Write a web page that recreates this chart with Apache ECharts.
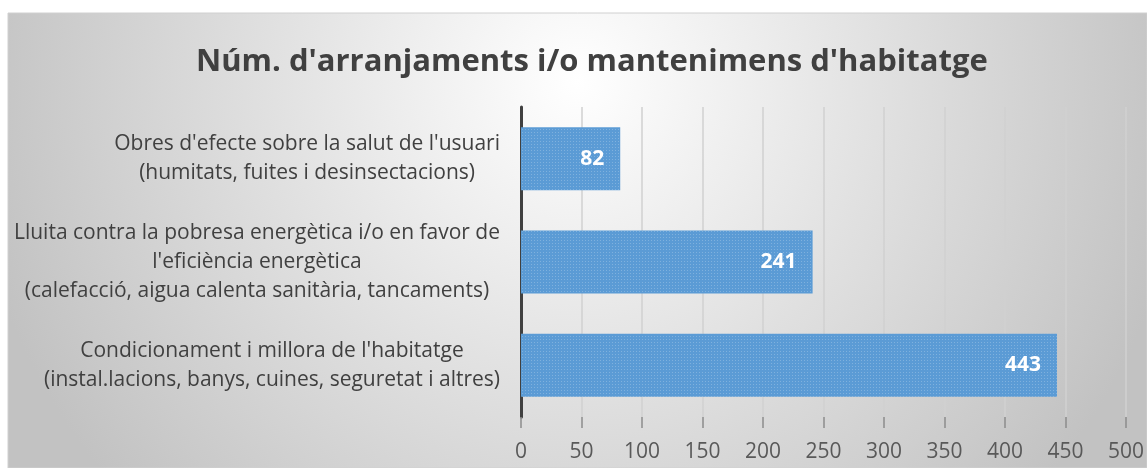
<!DOCTYPE html>
<html>
<head>
<meta charset="utf-8">
<script src="https://cdn.jsdelivr.net/npm/echarts@6/dist/echarts.min.js"></script>
<style>
  html, body { margin: 0; padding: 0; background: #fff; }
  #chart { width: 1147px; height: 468px; }
</style>
</head>
<body>
<div id="chart"></div>
<script>
// categories listed bottom to top (category axis runs upwards)
const categories = [
  "Condicionament i millora de l'habitatge\n(instal.lacions, banys, cuines, seguretat i altres)",
  "Lluita contra la pobresa energètica i/o en favor de\nl'eficiència energètica\n(calefacció, aigua calenta sanitària, tancaments)",
  "Obres d'efecte sobre la salut de l'usuari\n(humitats, fuites i desinsectacions)"
]
const values = [443, 241, 82]
const xTicks = [0, 50, 100, 150, 200, 250, 300, 350, 400, 450, 500]

const chart = echarts.init(document.getElementById('chart'), null, { renderer: 'canvas' })

const option = {
  animation: false,
  textStyle: { fontFamily: 'Open Sans' },
  graphic: [{
    type: 'rect',
    z: -10,
    silent: true,
    shape: { x: 8, y: 13, width: 1139, height: 455 },
    style: {
      fill: new echarts.graphic.RadialGradient(0.5, 0.15, 1.35, [
        { offset: 0, color: '#ffffff' },
        { offset: 1, color: '#c2c2c2' }
      ]),
      stroke: '#d0d0d0',
      lineWidth: 1
    }
  }],
  title: {
    text: "Núm. d'arranjaments i/o mantenimens d'habitatge",
    left: 191,
    top: 42,
    textStyle: {
      fontFamily: 'Open Sans',
      fontSize: 31,
      fontWeight: 'bold',
      color: '#404040'
    }
  },
  grid: {
    left: 521,
    right: 20,
    top: 107,
    bottom: 51
  },
  xAxis: {
    type: 'value',
    min: xTicks[0],
    max: xTicks[xTicks.length - 1],
    interval: 50,
    axisLine: { show: false },
    axisTick: { show: true, length: 11, lineStyle: { color: '#8c8c8c', width: 1.5 } },
    splitLine: { show: true, lineStyle: { color: '#d0d0d0', width: 1.5 } },
    axisLabel: {
      color: '#595959',
      fontSize: 21,
      margin: 25
    }
  },
  yAxis: {
    type: 'category',
    data: categories,
    axisLine: { show: true, lineStyle: { color: '#404040', width: 3 } },
    axisTick: { show: false },
    axisLabel: {
      margin: 21,
      color: '#404040',
      fontSize: 21,
      lineHeight: 29,
      formatter: function (v) {
        return v.split('\n').map(function (s) { return '{c|' + s + '}' }).join('\n')
      },
      rich: {
        c: { align: 'center', fontSize: 21, lineHeight: 29, color: '#404040' }
      }
    }
  },
  series: [{
    type: 'bar',
    data: values,
    barCategoryGap: '39%',
    itemStyle: {
      color: '#5b9bd5',
      decal: {
        symbol: 'rect',
        symbolSize: 1,
        color: 'rgba(255,255,255,0.22)',
        dashArrayX: [1, 2],
        dashArrayY: [1, 2],
        rotation: 0
      }
    },
    label: {
      show: true,
      position: 'insideRight',
      distance: 16,
      color: '#ffffff',
      fontWeight: 'bold',
      fontSize: 21
    }
  }]
}

chart.setOption(option)
</script>
</body>
</html>
